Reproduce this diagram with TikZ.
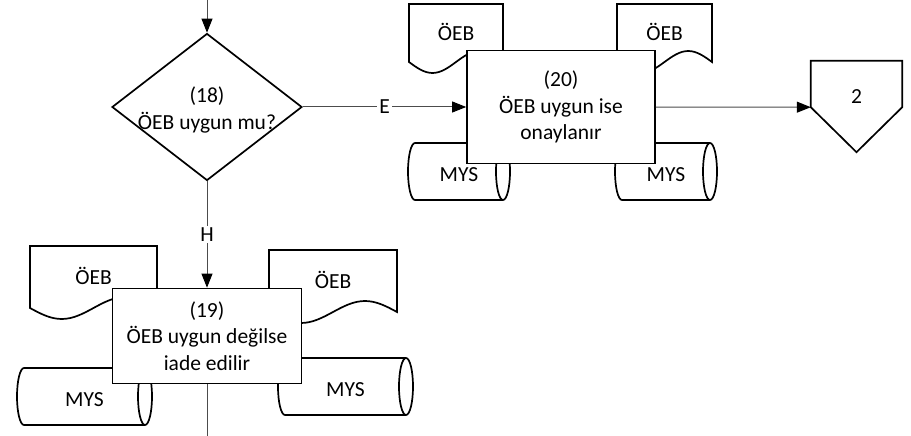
\documentclass[tikz,border=0pt]{standalone}
\usepackage{fontspec}
\setmainfont{Carlito}
\usetikzlibrary{shapes.geometric,arrows.meta,calc}
\tikzset{
    shapeline/.style={draw=black, line width=1.7pt, fill=white},
    flowline/.style={draw=black!70, line width=1pt},
    flowarrow/.style={flowline, -{Triangle[length=14pt,width=11pt,color=black]}},
    procbox/.style={shapeline, rectangle, align=center, inner sep=2pt},
    flowlabel/.style={fill=white, inner sep=2pt},
    pics/oebdoc/.style n args={3}{code={
        \draw[shapeline] (0,0) -- (#1,0) -- (#1,#2) sin (0.75*#1,#2-11) cos (0.5*#1,#2)
            sin (0.25*#1,#2+11) cos (0,#2) -- cycle;
        \node (-txt) at (0.5*#1,0.48*#2) {#3};
    }},
    pics/mysdb/.style n args={3}{code={
        \draw[shapeline] (7,0) -- (#1-7,0) arc[start angle=-90, end angle=90, x radius=7, y radius=#2/2]
            -- (7,#2) arc[start angle=90, end angle=270, x radius=7, y radius=#2/2] -- cycle;
        \draw[shapeline, fill=none] (#1-7,0) arc[start angle=-90, end angle=-270, x radius=7, y radius=#2/2];
        \node (-txt) at (0.5*#1,0.5*#2+3) {#3};
    }},
}
\begin{document}
\begin{tikzpicture}[x=1pt, y=-1pt, font=\fontsize{21.5pt}{26.5pt}\selectfont]
    \useasboundingbox (0,0) rectangle (911,436);
    % documents and databases behind the steps
    \pic (doc20a) at (409,4) {oebdoc={94}{58}{ÖEB}};
    \pic (doc20b) at (617,4) {oebdoc={95}{58}{ÖEB}};
    \pic (doc19a) at (30,246) {oebdoc={127}{62}{ÖEB}};
    \pic (doc19b) at (269,250) {oebdoc={128}{62}{ÖEB}};
    \pic (mys20a) at (408,143) {mysdb={102}{57}{MYS}};
    \pic (mys20b) at (615,143) {mysdb={102}{57}{MYS}};
    \pic (mys19a) at (17,368) {mysdb={135}{57}{MYS}};
    \pic (mys19b) at (278,358) {mysdb={135}{57}{MYS}};
    % steps
    \node[diamond, shapeline, minimum width=190pt, minimum height=147pt, inner sep=0pt] (d18) at (207,107) {};
    \node[align=center] (d18txt) at (207,110) {(18)\\ÖEB uygun mu?};
    \node[procbox, minimum width=188pt, minimum height=113pt] (b20) at (561,107) {(20)\\ÖEB uygun ise\\onaylanır};
    \node[procbox, minimum width=189pt, minimum height=95pt] (b19) at (207,336) {(19)\\ÖEB uygun değilse\\iade edilir};
    \node[minimum width=91pt, minimum height=46pt, inner sep=0pt] (p2) at (856.5,84) {};
    \draw[shapeline, fill=none] (p2.north west) -- (p2.north east) -- (p2.south east)
        -- ($(p2.south)+(0,45)$) -- (p2.south west) -- cycle;
    \node (p2txt) at (856.5,97) {2};
    % connectors
    \coordinate (in18) at (207,0);
    \coordinate (out19) at (207,436);
    \draw[flowarrow] (in18) -- (d18.north);
    \draw[flowarrow] (d18.east) -- node[flowlabel] {E} (b20.west);
    \draw[flowarrow] (d18.south) -- node[flowlabel] {H} (b19.north);
    \draw[flowarrow] (b20.east) -- (p2.south west);
    \draw[flowline] (b19.south) -- (out19);
\end{tikzpicture}
\end{document}
